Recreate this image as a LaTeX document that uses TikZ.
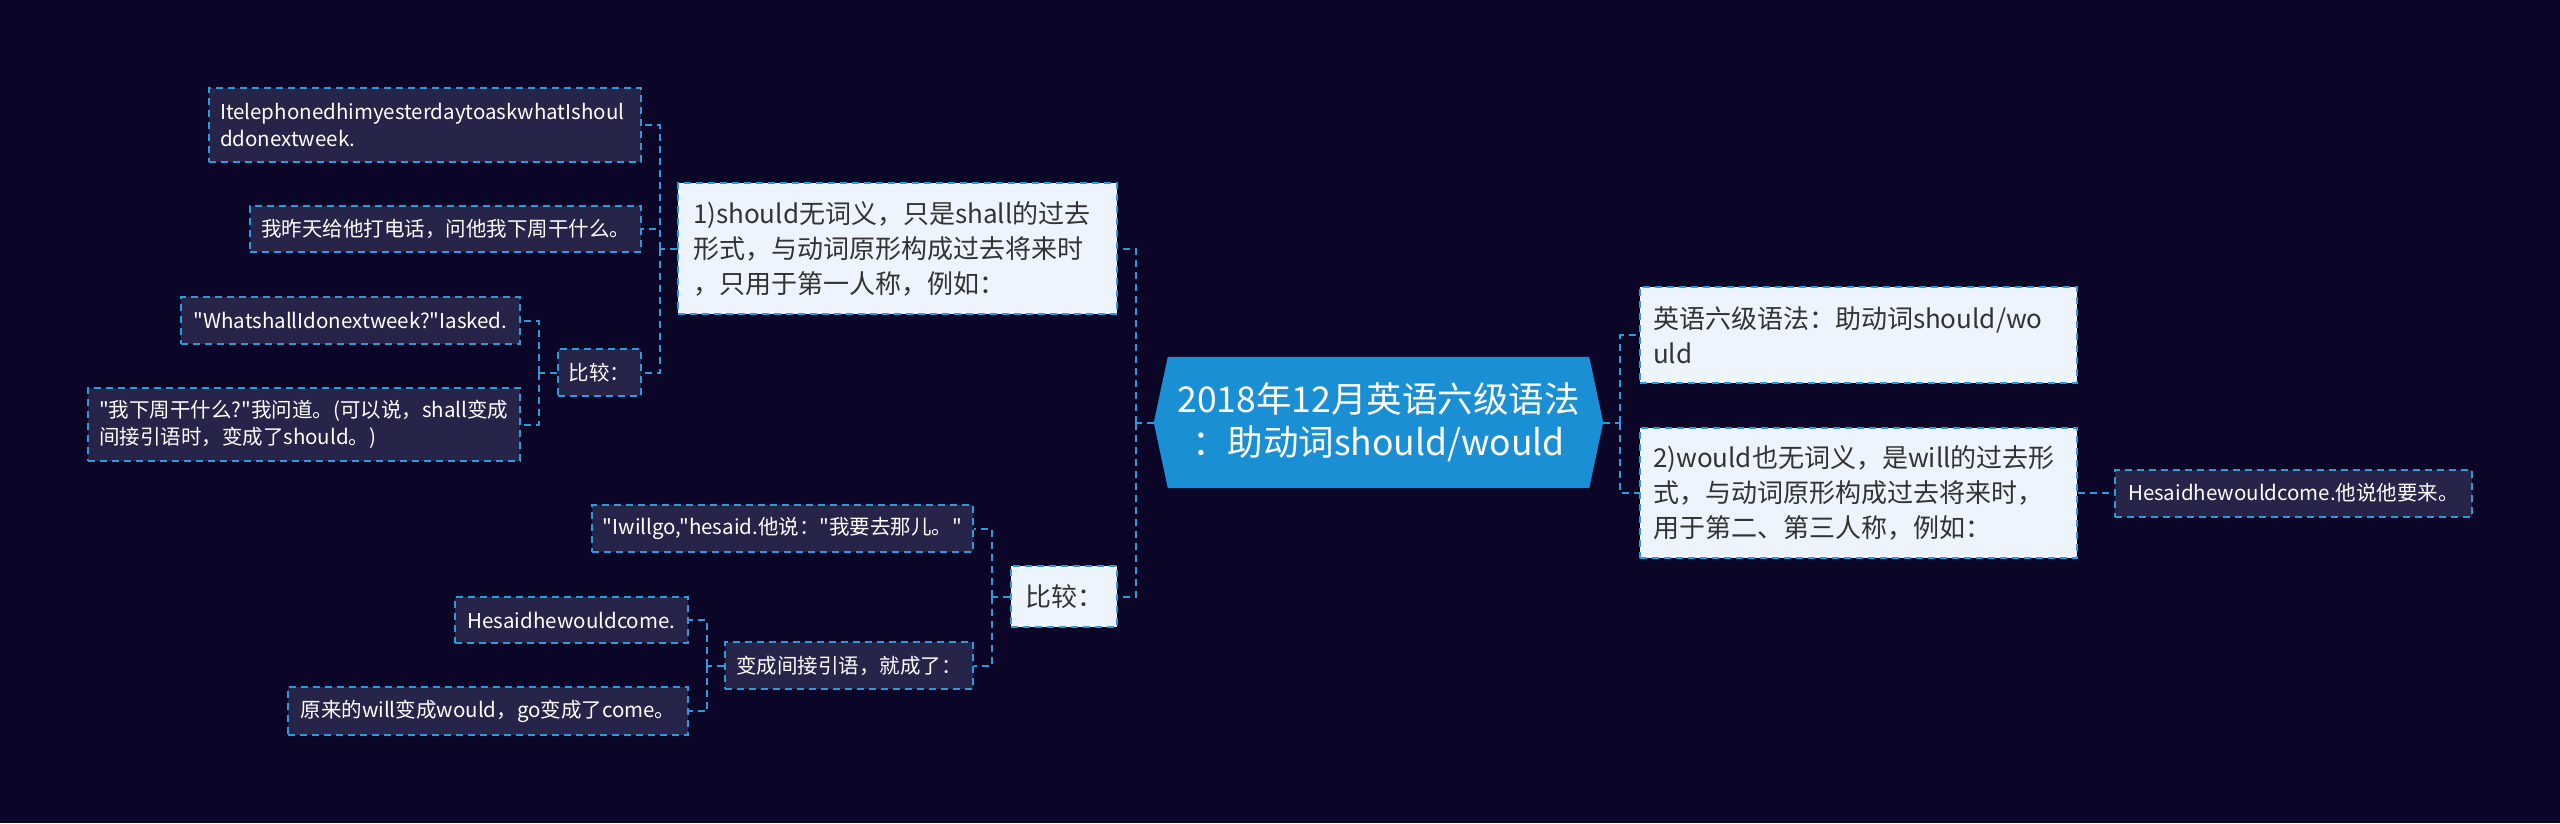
\documentclass[tikz,border=0pt]{standalone}
\usepackage{fontspec}
\setmainfont{Noto Sans CJK SC}[Ligatures=TeXOff]
\usetikzlibrary{calc,backgrounds}
\hyphenpenalty=10000
\exhyphenpenalty=10000
\definecolor{bg}{HTML}{0B0628}
\definecolor{lnc}{HTML}{2E9AD8}
\definecolor{darkf}{HTML}{262449}
\definecolor{lightf}{HTML}{EEF4FD}
\definecolor{rootc}{HTML}{1A8FD4}
\definecolor{txtd}{HTML}{333333}
\begin{document}
\begin{tikzpicture}[x=1pt,y=-1pt,
  conn/.style={draw=lnc,line width=2pt,dash pattern=on 7pt off 5pt},
  dbox/.style={draw=lnc,line width=2pt,dash pattern=on 7pt off 5pt,fill=darkf,text=white,
    font=\fontsize{20.5}{27}\selectfont,align=left,inner sep=3pt},
  lbox/.style={draw=lnc,line width=2pt,dash pattern=on 7pt off 5pt,fill=lightf,text=txtd,
    font=\fontsize{26}{35}\selectfont,align=left,inner sep=3pt},
  rootbox/.style={inner sep=0pt,text=white,font=\fontsize{35.5}{43}\selectfont,align=center}
  ]
\begin{scope}[on background layer]
  \fill[bg] (0,0) rectangle (2560,823);
\end{scope}
\useasboundingbox (0,0) rectangle (2560,823);

% root
\node[rootbox,minimum width=449pt,minimum height=131pt] (root) at (1378.5,422.5)
  {2018年12月英语六级语法\\：助动词should/would};
\begin{scope}[on background layer]
  \fill[rootc] (root.west) -- ($(root.north west)+(14,0)$) -- ($(root.north east)+(-14,0)$)
    -- (root.east) -- ($(root.south east)+(-14,0)$) -- ($(root.south west)+(14,0)$) -- cycle;
\end{scope}

% left main branches
\node[lbox,inner xsep=15pt,text width=409pt,minimum height=131pt] (A) at (897.5,248.5)
  {1)should无词义，只是shall的过去\\形式，与动词原形构成过去将来时\\，只用于第一人称，例如：};
\node[lbox,minimum width=106pt,minimum height=61pt] (C1) at (1064,596.5) {比较：};

% children of A
\node[dbox,inner xsep=11pt,text width=410pt,minimum height=74pt] (a1) at (425,125)
  {ItelephonedhimyesterdaytoaskwhatIshoul\\ddonextweek.};
\node[dbox,minimum width=391pt,minimum height=46pt] (a2) at (445.5,229)
  {我昨天给他打电话，问他我下周干什么。};
\node[dbox,minimum width=83pt,minimum height=47pt] (a3) at (599.5,372.5) {比较：};
\node[dbox,minimum width=339pt,minimum height=47pt] (b1) at (350.5,320.5)
  {"WhatshallIdonextweek?"Iasked.};
\node[dbox,inner xsep=11pt,text width=410pt,minimum height=73pt] (b2) at (304,424.5)
  {"我下周干什么?"我问道。(可以说，shall变成\\间接引语时，变成了should。)};

% children of C1
\node[dbox,minimum width=381pt,minimum height=47pt] (c1) at (782.5,528.5)
  {"Iwillgo,"hesaid.他说："我要去那儿。"};
\node[dbox,minimum width=248pt,minimum height=47pt] (c2) at (849,665.5)
  {变成间接引语，就成了：};
\node[dbox,minimum width=233pt,minimum height=46pt] (d1) at (571.5,620)
  {Hesaidhewouldcome.};
\node[dbox,minimum width=400pt,minimum height=48pt] (d2) at (488,711)
  {原来的will变成would，go变成了come。};

% right
\node[lbox,inner xsep=13pt,text width=411pt,minimum height=96pt] (R1) at (1858.5,335)
  {英语六级语法：助动词should/wo\\uld};
\node[lbox,inner xsep=13pt,text width=411pt,minimum height=130pt] (R2) at (1858.5,493)
  {2)would也无词义，是will的过去形\\式，与动词原形构成过去将来时，\\用于第二、第三人称，例如：};
\node[dbox,minimum width=357pt,minimum height=47pt] (r1) at (2293.5,493)
  {Hesaidhewouldcome.他说他要来。};

% junctions
\coordinate (jL) at (1136,422.5);
\coordinate (jR) at (1620,422.5);
\coordinate (jA) at (660,248.5);
\coordinate (jB) at (539,372.5);
\coordinate (jC) at (992,596.5);
\coordinate (jD) at (707,665.5);

% connectors
\draw[conn] (root.west) -- (jL);
\draw[conn] (jL) |- (A.east);
\draw[conn] (jL) |- (C1.east);
\draw[conn] (root.east) -- (jR);
\draw[conn] (jR) |- (R1.west);
\draw[conn] (jR) |- (R2.west);
\draw[conn] (R2.east) -- (r1.west);
\draw[conn] (A.west) -- (jA);
\draw[conn] (jA) |- (a1.east);
\draw[conn] (jA) |- (a2.east);
\draw[conn] (jA) |- (a3.east);
\draw[conn] (a3.west) -- (jB);
\draw[conn] (jB) |- (b1.east);
\draw[conn] (jB) |- (b2.east);
\draw[conn] (C1.west) -- (jC);
\draw[conn] (jC) |- (c1.east);
\draw[conn] (jC) |- (c2.east);
\draw[conn] (c2.west) -- (jD);
\draw[conn] (jD) |- (d1.east);
\draw[conn] (jD) |- (d2.east);
\end{tikzpicture}
\end{document}
